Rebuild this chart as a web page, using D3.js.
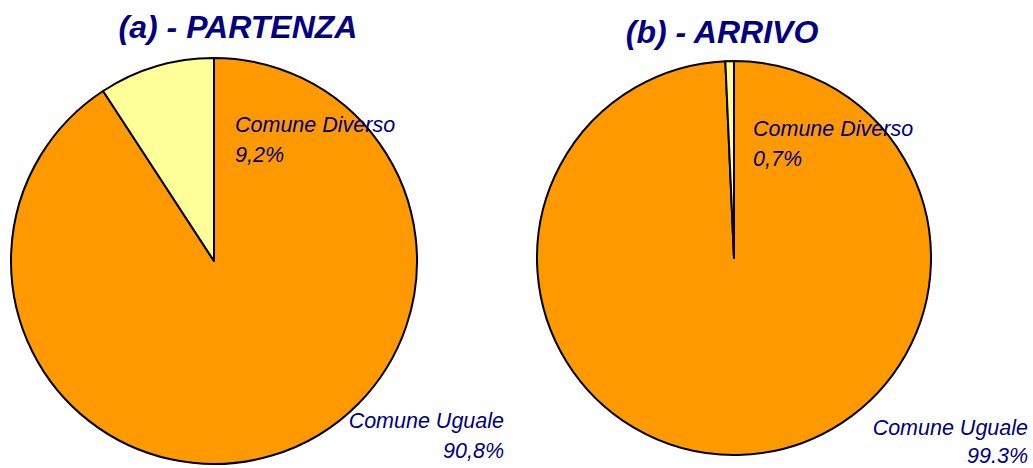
<!DOCTYPE html>
<html>
<head>
<meta charset="utf-8">
<script src="https://cdn.jsdelivr.net/npm/d3@7"></script>
<style>
  body { margin: 0; background: #fff; }
  svg { display: block; }
  text { font-family: "Liberation Sans", Arial, sans-serif; fill: #000080; font-style: italic; }
</style>
</head>
<body>
<svg width="1033" height="468"></svg>
<script>
var categories = ["Comune Uguale", "Comune Diverso"];
var partenza = [90.8, 9.2];
var arrivo = [99.3, 0.7];
var partenzaLabels = ["90,8%", "9,2%"];
var arrivoLabels = ["99.3%", "0,7%"];
var titles = ["(a) - PARTENZA", "(b) - ARRIVO"];
var colors = ["#FF9900", "#FFFF99"];

var svg = d3.select("svg");

var color = d3.scaleOrdinal().domain(categories).range(colors);

// one panel per pie
var panels = [
  {title: titles[0], values: partenza, labels: partenzaLabels,
   cx: 214, cy: 261, r: 203, tx: 238, ty: 38,
   div: [21, -129], ugu: [290, 167], gap: 30},
  {title: titles[1], values: arrivo, labels: arrivoLabels,
   cx: 734, cy: 258, r: 197, tx: 722, ty: 43,
   div: [19, -122], ugu: [294, 177], gap: 28}
];

var pie = d3.pie().sort(null).value(function(d) { return d.value; });

panels.forEach(function(p) {
  var data = categories.map(function(c, i) {
    return {name: c, value: p.values[i], label: p.labels[i]};
  });
  var arc = d3.arc().innerRadius(0).outerRadius(p.r);

  var g = svg.append("g")
      .attr("transform", "translate(" + p.cx + "," + p.cy + ")");

  g.selectAll(".slice").data(pie(data))
    .enter().append("path")
      .attr("class", "slice")
      .attr("d", arc)
      .attr("fill", function(d) { return color(d.data.name); })
      .attr("stroke", "#000")
      .attr("stroke-width", 2)
      .attr("stroke-linejoin", "round");

  // title
  svg.append("text")
      .attr("x", p.tx)
      .attr("y", p.ty)
      .attr("text-anchor", "middle")
      .style("font-size", "32px")
      .style("font-weight", "bold")
      .text(p.title);

  // Comune Diverso label
  var ld = g.append("text")
      .attr("x", p.div[0])
      .attr("y", p.div[1])
      .style("font-size", "21.5px");
  ld.append("tspan").attr("x", p.div[0]).text(data[1].name);
  ld.append("tspan").attr("x", p.div[0]).attr("dy", 30).text(data[1].label);

  // Comune Uguale label
  var lu = g.append("text")
      .attr("x", p.ugu[0])
      .attr("y", p.ugu[1])
      .attr("text-anchor", "end")
      .style("font-size", "21.5px");
  lu.append("tspan").attr("x", p.ugu[0]).text(data[0].name);
  lu.append("tspan").attr("x", p.ugu[0]).attr("dy", p.gap).text(data[0].label);
});
</script>
</body>
</html>
